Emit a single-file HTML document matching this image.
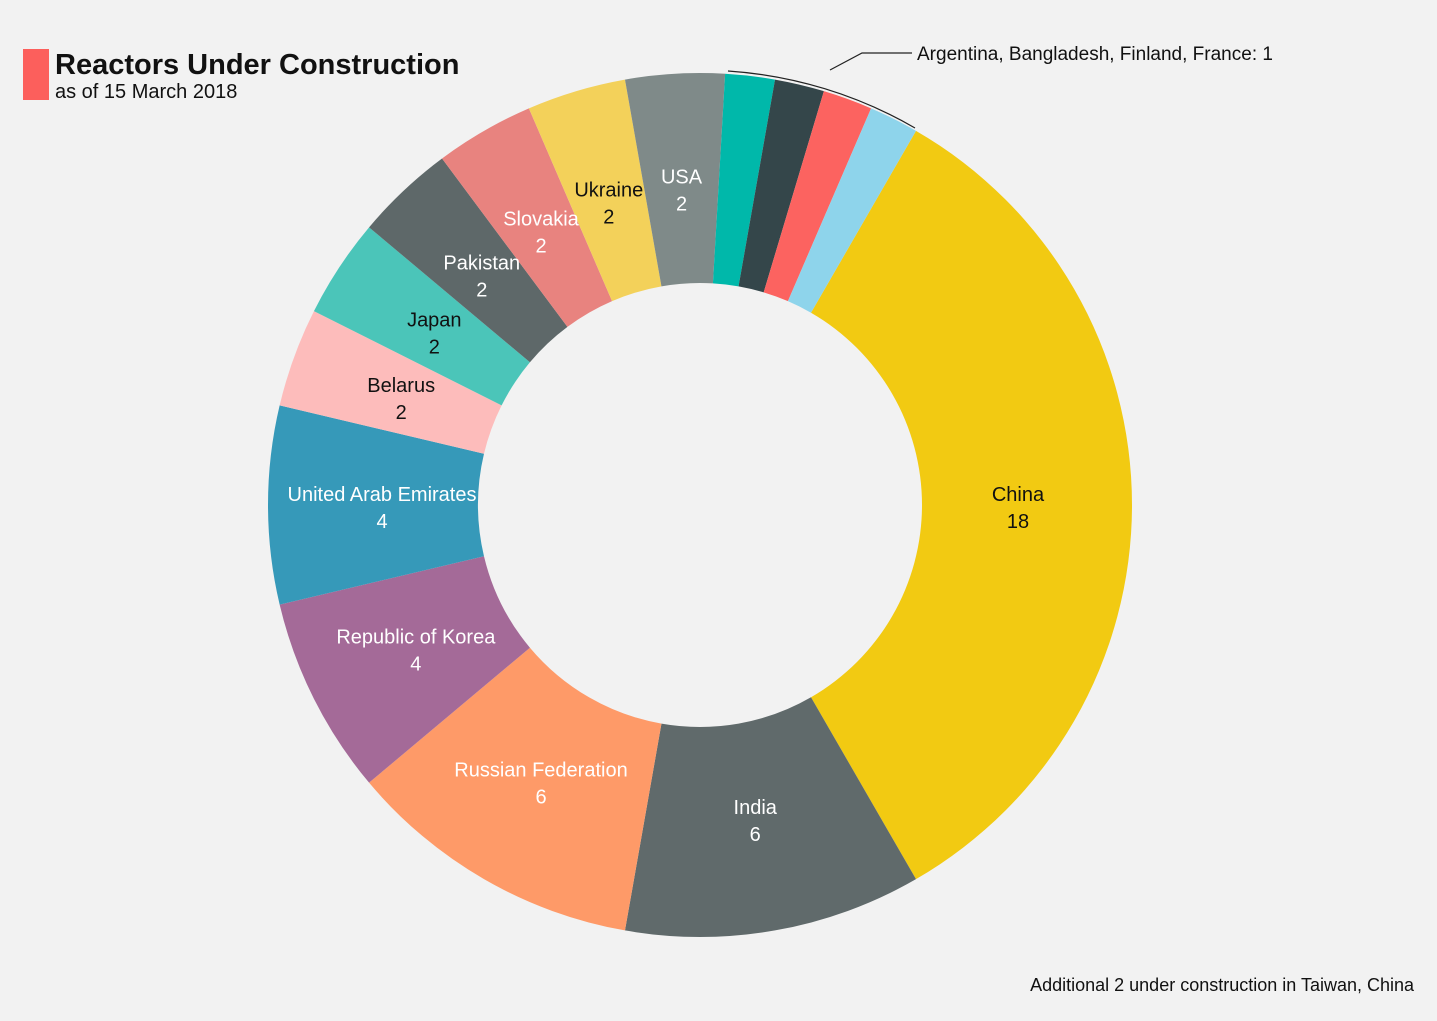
<!DOCTYPE html>
<html><head><meta charset="utf-8"><style>
html,body{margin:0;padding:0;background:#f2f2f2;}
body{width:1437px;height:1016px;position:relative;overflow:hidden;font-family:"Liberation Sans",sans-serif;}
</style></head><body>
<svg id="chart" width="1437" height="1016" viewBox="0 0 1437 1016" xmlns="http://www.w3.org/2000/svg">
<rect x="23" y="49" width="26" height="51" fill="#fc5f5c"/>
<text x="55" y="74" font-size="29" font-weight="bold" fill="#111" font-family="Liberation Sans, sans-serif">Reactors Under Construction</text>
<text x="55" y="98" font-size="20" fill="#111" font-family="Liberation Sans, sans-serif">as of 15 March 2018</text>
<g id="slices"></g>
<g id="labels"></g>
<path d="M915,128 A430,430 0 0 0 728,71" fill="none" stroke="#222" stroke-width="1.2"/>
<path d="M830,70 L862,53 L912,53" fill="none" stroke="#222" stroke-width="1.2"/>
<text x="917" y="60" font-size="19" fill="#111" font-family="Liberation Sans, sans-serif">Argentina, Bangladesh, Finland, France: 1</text>
<text x="1414" y="991" text-anchor="end" font-size="18" fill="#111" font-family="Liberation Sans, sans-serif">Additional 2 under construction in Taiwan, China</text>
</svg>
<script>
const categories = ["China","India","Russian Federation","Republic of Korea","United Arab Emirates","Belarus","Japan","Pakistan","Slovakia","Ukraine","USA","Argentina","Bangladesh","Finland","France"];
const values = [18,6,6,4,4,2,2,2,2,2,2,1,1,1,1];
const colors = ["#f2ca12","#606a6b","#fe9a68","#a46a98","#3699b9","#fdbcbb","#4bc5b9","#5e6869","#e8837f","#f3d15a","#7f8a89","#00b8aa","#34464a","#fc6360","#8ed4eb"];
const labelColors = ["#111","#fff","#fff","#fff","#fff","#111","#111","#fff","#fff","#111","#fff",null,null,null,null];
const cx=700, cy=505, R=432, r=222, startDeg=30;
const total = values.reduce((a,b)=>a+b,0);
const NS="http://www.w3.org/2000/svg";
function pt(deg,rad){const a=deg*Math.PI/180;return [cx+rad*Math.sin(a), cy-rad*Math.cos(a)];}
const gS=document.getElementById('slices'), gL=document.getElementById('labels');
let acc=startDeg;
values.forEach((v,i)=>{
  const a0=acc, a1=acc+v/total*360; acc=a1;
  const [x0,y0]=pt(a0,R),[x1,y1]=pt(a1,R),[x2,y2]=pt(a1,r),[x3,y3]=pt(a0,r);
  const large=(a1-a0)>180?1:0;
  const p=document.createElementNS(NS,'path');
  p.setAttribute('d',`M${x0},${y0} A${R},${R} 0 ${large} 1 ${x1},${y1} L${x2},${y2} A${r},${r} 0 ${large} 0 ${x3},${y3} Z`);
  p.setAttribute('fill',colors[i]);
  
  
  gS.appendChild(p);
  if(labelColors[i]){
    const [lx,ly]=pt((a0+a1)/2,318);
    const t=document.createElementNS(NS,'text');
    t.setAttribute('x',lx);t.setAttribute('y',ly-4);
    t.setAttribute('text-anchor','middle');t.setAttribute('font-size','20');
    t.setAttribute('fill',labelColors[i]);
    t.setAttribute('font-family','Liberation Sans, sans-serif');
    
    
    const s1=document.createElementNS(NS,'tspan');s1.setAttribute('x',lx);s1.textContent=categories[i];
    const s2=document.createElementNS(NS,'tspan');s2.setAttribute('x',lx);s2.setAttribute('dy','27');s2.textContent=values[i];
    t.appendChild(s1);t.appendChild(s2);gL.appendChild(t);
  }
});
</script>
</body></html>
